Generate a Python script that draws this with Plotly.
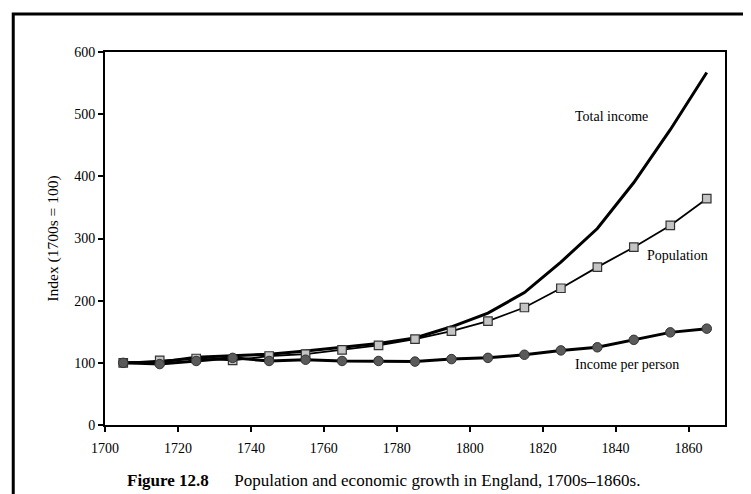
import plotly.graph_objects as go

years = [1705, 1715, 1725, 1735, 1745, 1755, 1765, 1775, 1785, 1795,
         1805, 1815, 1825, 1835, 1845, 1855, 1865]
total_income = [100, 101, 109, 112, 114, 119, 125, 131, 140, 158,
                180, 213, 262, 316, 390, 475, 567]
population = [100, 104, 107, 104, 111, 114, 121, 128, 138, 151,
              167, 189, 220, 254, 286, 321, 364]
income_per_person = [100, 98, 103, 108, 103, 105, 103, 103, 102, 106,
                     108, 113, 120, 125, 137, 149, 155]

x_ticks = [1700, 1720, 1740, 1760, 1780, 1800, 1820, 1840, 1860]
y_ticks = [0, 100, 200, 300, 400, 500, 600]

labels = ["Total income", "Population", "Income per person"]
label_pos = [(1839, 497), (1857, 273), (1843, 97)]

FONT = "Liberation Serif"

fig = go.Figure()
fig.add_trace(go.Scatter(x=years, y=total_income, mode="lines",
                         line=dict(color="black", width=3), name=labels[0]))
fig.add_trace(go.Scatter(x=years, y=population, mode="lines+markers",
                         line=dict(color="black", width=1.8),
                         marker=dict(symbol="square", size=8.5, color="#c4c4c4",
                                     line=dict(color="#333333", width=1.2)),
                         name=labels[1]))
fig.add_trace(go.Scatter(x=years, y=income_per_person, mode="lines+markers",
                         line=dict(color="black", width=3),
                         marker=dict(symbol="circle", size=9.5, color="#5a5a5a",
                                     line=dict(color="#333333", width=1)),
                         name=labels[2]))

for text, (lx, ly) in zip(labels, label_pos):
    fig.add_annotation(x=lx, y=ly, text=text, showarrow=False,
                       font=dict(family=FONT, size=14, color="black"))

fig.add_annotation(xref="paper", yref="paper", x=0.032, y=-0.148,
                   xanchor="left", yanchor="middle", showarrow=False,
                   text="<b>Figure 12.8</b>&nbsp;&nbsp;&nbsp;&nbsp;&nbsp;&nbsp;Population and economic growth in England, 1700s–1860s.",
                   font=dict(family=FONT, size=17, color="black"))

# outer frame of the figure
fig.add_shape(type="rect", xref="paper", yref="paper",
              x0=-0.148, y0=-0.3, x1=1.07, y1=1.102,
              line=dict(color="black", width=3))

fig.update_layout(
    width=751, height=494,
    margin=dict(l=97, r=34, t=44, b=77),
    paper_bgcolor="white", plot_bgcolor="white",
    showlegend=False,
    font=dict(family=FONT, size=14, color="black"),
    xaxis=dict(range=[1700, 1870], tickvals=x_ticks, showgrid=False,
               zeroline=False, showline=True, linecolor="black", linewidth=2,
               mirror=True, ticks="outside", ticklen=5, tickwidth=2,
               tickcolor="black", ticklabelstandoff=4),
    yaxis=dict(range=[0, 600], tickvals=y_ticks, showgrid=False,
               zeroline=False, showline=True, linecolor="black", linewidth=2,
               mirror=True, ticks="outside", ticklen=5, tickwidth=2,
               tickcolor="black",
               title=dict(text="Index (1700s = 100)", standoff=12,
                          font=dict(family=FONT, size=15.5))),
)

fig.write_html("out.html")
